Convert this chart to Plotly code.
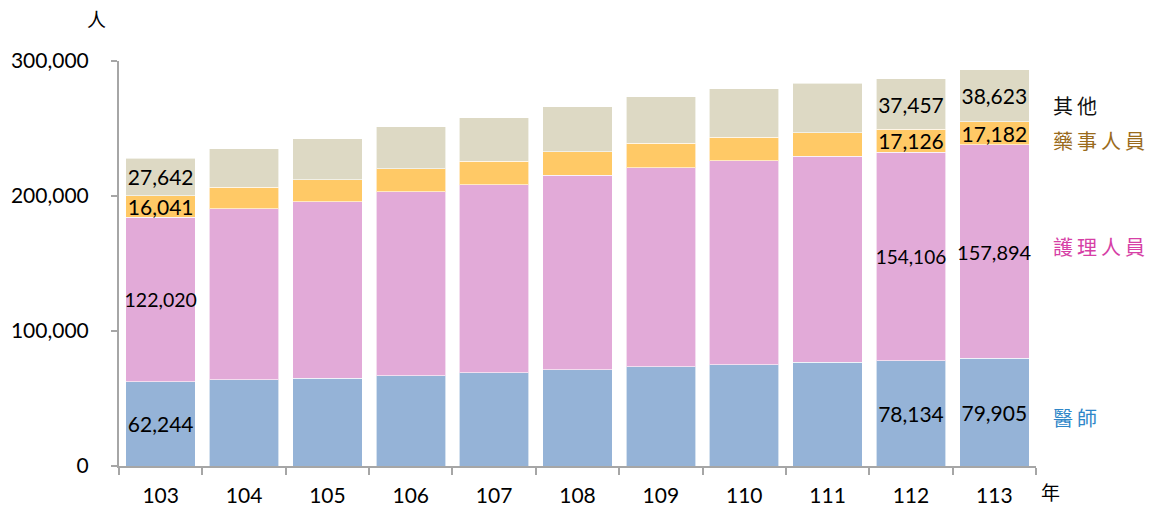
import plotly.graph_objects as go

years = ["103", "104", "105", "106", "107", "108", "109", "110", "111", "112", "113"]
doctors = [62244, 63750, 65000, 66900, 68900, 71400, 73600, 75100, 76900, 78134, 79905]
nurses = [122020, 126800, 130900, 136400, 139600, 144100, 147500, 151200, 152700, 154106, 157894]
pharmacists = [16041, 15900, 16300, 17000, 17100, 17300, 17800, 17100, 17300, 17126, 17182]
others = [27642, 28700, 30200, 31100, 32400, 33300, 34600, 36100, 36800, 37457, 38623]
labeled_years = ["103", "112", "113"]

series = [
    ("醫師", doctors, "#95B3D7", "#2E86C8", [21, 21, 21]),
    ("護理人員", nurses, "#E2AAD8", "#D63FA6", [19.5, 19, 20]),
    ("藥事人員", pharmacists, "#FFC966", "#9A6B1C", [21, 21, 21]),
    ("其他", others, "#DDD9C4", "#111111", [21, 21, 21]),
]

fig = go.Figure()
for name, vals, color, _, sizes in series:
    texts = []
    tsizes = []
    for y, v in zip(years, vals):
        if y in labeled_years:
            texts.append(f"{v:,}")
            tsizes.append(sizes[labeled_years.index(y)])
        else:
            texts.append("")
            tsizes.append(20)
    fig.add_trace(go.Bar(
        x=years, y=vals, name=name,
        marker=dict(color=color, line=dict(color="rgba(255,255,255,0.6)", width=1)),
        text=texts, textposition="inside", insidetextanchor="middle",
        textangle=0, constraintext="none", cliponaxis=False,
        textfont=dict(family="Lato", size=tsizes, color="#000000"),
        hoverinfo="x+y+name",
    ))

legend_pos = {"其他": 0.889, "藥事人員": 0.803, "護理人員": 0.543, "醫師": 0.119}
annotations = []
for name, _, _, tcolor, _ in series:
    annotations.append(dict(
        text="\u2009".join(name), xref="paper", yref="paper",
        x=1.016, y=legend_pos[name], xanchor="left", yanchor="middle",
        showarrow=False, font=dict(family="Noto Sans CJK TC", size=20, color=tcolor),
    ))
annotations.append(dict(text="人", xref="paper", yref="paper", x=-0.024, y=1.106,
                        xanchor="center", yanchor="middle", showarrow=False,
                        font=dict(family="Noto Sans CJK TC", size=19, color="#000000")))
annotations.append(dict(text="年", xref="paper", yref="paper", x=1.016, y=-0.064,
                        xanchor="center", yanchor="middle", showarrow=False,
                        font=dict(family="Noto Sans CJK TC", size=19, color="#000000")))

fig.update_layout(
    barmode="stack",
    bargap=0.166,
    width=1157, height=507,
    margin=dict(l=119, r=121, t=61, b=41, autoexpand=False),
    paper_bgcolor="white", plot_bgcolor="white",
    showlegend=False,
    annotations=annotations,
    font=dict(family="Lato", size=20, color="#000000"),
)
fig.update_xaxes(
    type="category", tickson="boundaries", ticks="outside", ticklen=7,
    tickcolor="#A6A6A6", tickwidth=2, showline=True, linecolor="#A6A6A6", linewidth=2,
    showgrid=False, tickfont=dict(family="Lato", size=21, color="#000000"),
    ticklabelstandoff=10, automargin=False,
)
fig.update_yaxes(
    range=[0, 300000], dtick=100000, tickformat=",", ticks="outside", ticklen=6,
    tickcolor="#A6A6A6", tickwidth=2, showline=True, linecolor="#A6A6A6", linewidth=2,
    showgrid=False, zeroline=False, tickfont=dict(family="Lato", size=21, color="#000000"),
    ticklabelstandoff=18, automargin=False,
)

fig.write_html(
    "out.html",
    config={"displayModeBar": False},
    post_script="document.body.style.margin='0';document.body.style.overflow='hidden';",
)
